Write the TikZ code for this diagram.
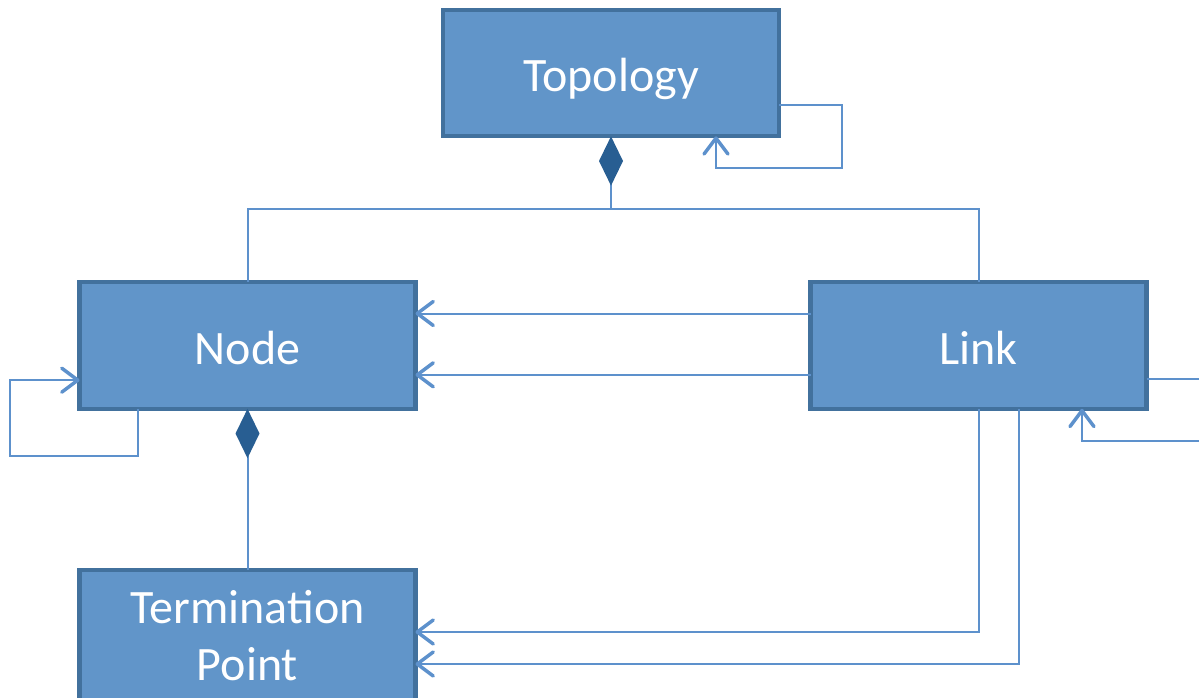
\documentclass[tikz,border=0pt]{standalone}
\usepackage{fontspec}
\setmainfont{Carlito}
\usetikzlibrary{arrows.meta}
\definecolor{boxfill}{RGB}{97,149,201}
\definecolor{boxline}{RGB}{66,113,157}
\definecolor{connc}{RGB}{93,145,204}
\definecolor{diam}{RGB}{40,94,146}
\begin{document}
\begin{tikzpicture}[x=0.75pt,y=-0.75pt,
 cls/.style={draw=boxline, fill=boxfill, line width=3.2pt, text=white,
   minimum width=252pt, minimum height=95pt,
   font=\fontsize{36}{42.75}\selectfont, align=center, inner sep=0pt, outer sep=0pt},
 oneline/.style={text height=30pt, text depth=2pt},
 conn/.style={draw=connc, line width=1.5pt},
 openarr/.style={-{Straight Barb[length=12pt,width=18pt,line width=2.6pt,round]}},
 comp/.style={{Diamond[length=37pt,width=18pt,color=diam,fill=diam]}-}]
\useasboundingbox (0,0) rectangle (1199,697);
\clip (0,0) rectangle (1199,697);

\node[cls,oneline] (topo) at (611,73) {Topology};
\node[cls,oneline] (node) at (247.5,345.5) {Node};
\node[cls,oneline] (link) at (978.5,345.5) {Link};
\node[cls, minimum height=99pt] (tp) at (247.5,636) {Termination\\Point};

% Topology composition
\coordinate (tj) at (611,209);
\draw[conn, comp] (topo.south) -- (tj);
\draw[conn] (node.north) |- (tj) -| (link.north);

% Topology self loop
\coordinate (tl) at (842,168);
\draw[conn, openarr] ([yshift=-24pt]topo.east) -| (tl) -| ([xshift=78.75pt]topo.south);

% Link -> Node
\draw[conn, openarr] ([yshift=24pt]link.west) -- ([yshift=24pt]node.east);
\draw[conn, openarr] ([yshift=-22pt]link.west) -- ([yshift=-22pt]node.east);

% Node self loop
\coordinate (nl) at (10,456);
\draw[conn, openarr] ([xshift=-82pt]node.south) |- (nl) |- ([yshift=-26pt]node.west);

% Node composition
\draw[conn, comp] (node.south) -- (tp.north);

% Link -> Termination Point
\draw[conn, openarr] (link.south) |- ([yshift=3pt]tp.east);
\draw[conn, openarr] ([xshift=30.4pt]link.south) |- ([yshift=-21pt]tp.east);

% Link self loop
\coordinate (ll) at (1215,441);
\draw[conn, openarr] ([yshift=-25pt]link.east) -| (ll) -| ([xshift=77.6pt]link.south);
\end{tikzpicture}
\end{document}
